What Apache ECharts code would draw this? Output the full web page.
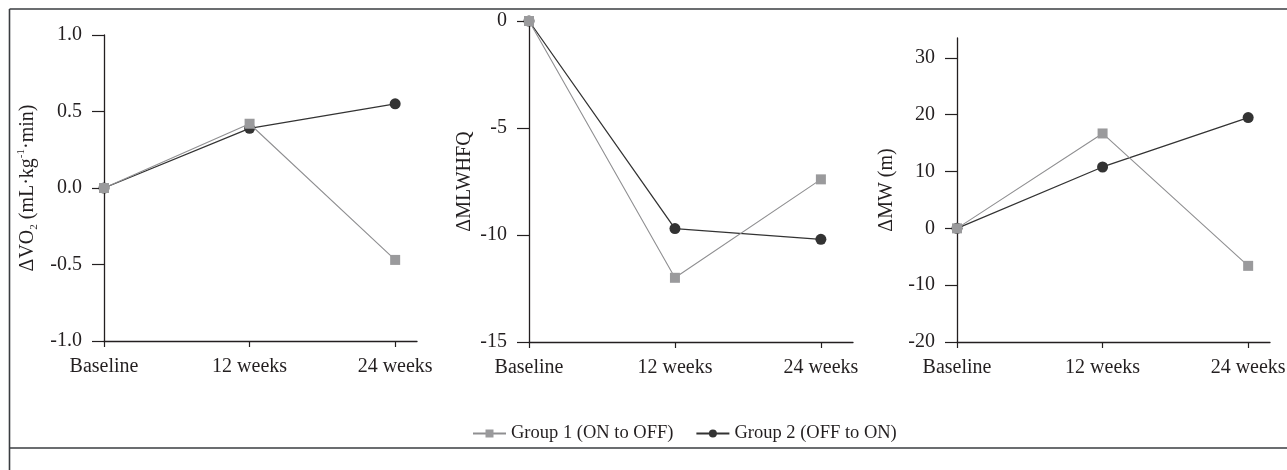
<!DOCTYPE html>
<html>
<head>
<meta charset="utf-8">
<script src="https://cdn.jsdelivr.net/npm/echarts@6/dist/echarts.min.js"></script>
<style>
  html, body { margin: 0; padding: 0; background: #fff; }
  #chart { width: 1287px; height: 470px; }
</style>
</head>
<body>
<div id="chart"></div>
<script>
// Time points shared by all three panels
const categories = ['Baseline', '12 weeks', '24 weeks'];
const seriesNames = ['Group 1 (ON to OFF)', 'Group 2 (OFF to ON)'];

// Change in peak VO2 (mL·kg-1·min)
const vo2Group1 = [0, 0.42, -0.47];
const vo2Group2 = [0, 0.39, 0.55];

// Change in MLWHFQ score
const mlwhfqGroup1 = [0, -12.0, -7.4];
const mlwhfqGroup2 = [0, -9.7, -10.2];

// Change in 6-minute walk distance (m)
const mwGroup1 = [0, 16.7, -6.6];
const mwGroup2 = [0, 10.8, 19.5];

// Y tick labels per panel
const vo2Ticks = [-1.0, -0.5, 0.0, 0.5, 1.0];
const mlwhfqTicks = [-15, -10, -5, 0];
const mwTicks = [-20, -10, 0, 10, 20, 30];

const FONT = '"Liberation Serif", "DejaVu Serif", serif';
const INK = '#231f20';
const G1 = '#9a9a9c';
const G2 = '#333333';
const FS = 20;

const toPoints = vals => vals.map((v, i) => [i, v]);
const catIdx = categories.map((_, i) => i);

function xAxisFor(gridIndex, max) {
  return {
    type: 'value', gridIndex, min: 0, max,
    axisLine: { onZero: false, lineStyle: { color: INK, width: 1.3 } },
    axisTick: { show: true, customValues: catIdx, length: 6, lineStyle: { color: INK, width: 1.2 } },
    axisLabel: {
      customValues: catIdx, formatter: v => categories[Math.round(v)] || '',
      color: INK, fontFamily: FONT, fontSize: FS, margin: 16
    },
    splitLine: { show: false }
  };
}

function yAxisFor(gridIndex, min, max, interval, ticks, fmt, name, nameGap) {
  return {
    type: 'value', gridIndex, min, max, interval,
    name, nameLocation: 'middle', nameGap,
    nameTextStyle: {
      color: INK, fontFamily: FONT, fontSize: FS,
      rich: {
        m: { fontFamily: FONT, fontSize: FS, color: INK, lineHeight: 24 },
        sub: { fontFamily: FONT, fontSize: 11, color: INK, lineHeight: 10, verticalAlign: 'bottom' },
        sup: { fontFamily: FONT, fontSize: 11, color: INK, lineHeight: 12, verticalAlign: 'top' }
      }
    },
    axisLine: { show: true, onZero: false, lineStyle: { color: INK, width: 1.3 } },
    axisTick: { show: true, customValues: ticks, length: 12, lineStyle: { color: INK, width: 1.2 } },
    axisLabel: { customValues: ticks, formatter: fmt, color: INK, fontFamily: FONT, fontSize: FS, margin: 22 },
    splitLine: { show: false }
  };
}

function lineSeries(name, data, idx, group) {
  const g1 = group === 1;
  return {
    name, type: 'line', xAxisIndex: idx, yAxisIndex: idx,
    data: toPoints(data),
    symbol: g1 ? 'rect' : 'circle',
    symbolSize: g1 ? 10 : 11,
    z: g1 ? 4 : 3,
    itemStyle: { color: g1 ? G1 : G2 },
    lineStyle: { color: g1 ? '#8f8f91' : G2, width: g1 ? 1.1 : 1.3 },
    emphasis: { disabled: true },
    animation: false
  };
}

const chart = echarts.init(document.getElementById('chart'), null, { renderer: 'canvas' });

chart.setOption({
  backgroundColor: '#ffffff',
  animation: false,
  grid: [
    { left: 104, top: 35, width: 313, height: 306, outerBoundsMode: 'none' },
    { left: 529, top: 21, width: 324, height: 321, outerBoundsMode: 'none' },
    { left: 957, top: 38, width: 313, height: 304, outerBoundsMode: 'none' }
  ],
  xAxis: [
    xAxisFor(0, 2.15),
    xAxisFor(1, 2.22),
    xAxisFor(2, 2.15)
  ],
  yAxis: [
    yAxisFor(0, -1, 1, 0.5, vo2Ticks, v => v.toFixed(1),
      '{m|ΔVO}{sub|2}{m| (mL·kg}{sup|-1}{m|·min)}', 64),
    yAxisFor(1, -15, 0, 5, mlwhfqTicks, v => String(v), 'ΔMLWHFQ', 54),
    yAxisFor(2, -20, 33.5, 10, mwTicks, v => String(v), 'ΔMW (m)', 60)
  ],
  legend: {
    data: seriesNames,
    left: 467, top: 419,
    itemWidth: 33, itemHeight: 10, itemGap: 22,
    textStyle: { color: INK, fontFamily: FONT, fontSize: 18.5 },
    selectedMode: false
  },
  series: [
    lineSeries(seriesNames[1], vo2Group2, 0, 2),
    lineSeries(seriesNames[0], vo2Group1, 0, 1),
    lineSeries(seriesNames[1], mlwhfqGroup2, 1, 2),
    lineSeries(seriesNames[0], mlwhfqGroup1, 1, 1),
    lineSeries(seriesNames[1], mwGroup2, 2, 2),
    lineSeries(seriesNames[0], mwGroup1, 2, 1)
  ],
  graphic: [
    { type: 'line', shape: { x1: 9.5, y1: 9, x2: 1287, y2: 9 }, style: { stroke: '#3a3d40', lineWidth: 1.6 }, silent: true },
    { type: 'line', shape: { x1: 9.5, y1: 9, x2: 9.5, y2: 470 }, style: { stroke: '#3a3d40', lineWidth: 1.6 }, silent: true },
    { type: 'line', shape: { x1: 9.5, y1: 448, x2: 1287, y2: 448 }, style: { stroke: '#3a3d40', lineWidth: 1.6 }, silent: true }
  ]
});
</script>
</body>
</html>
